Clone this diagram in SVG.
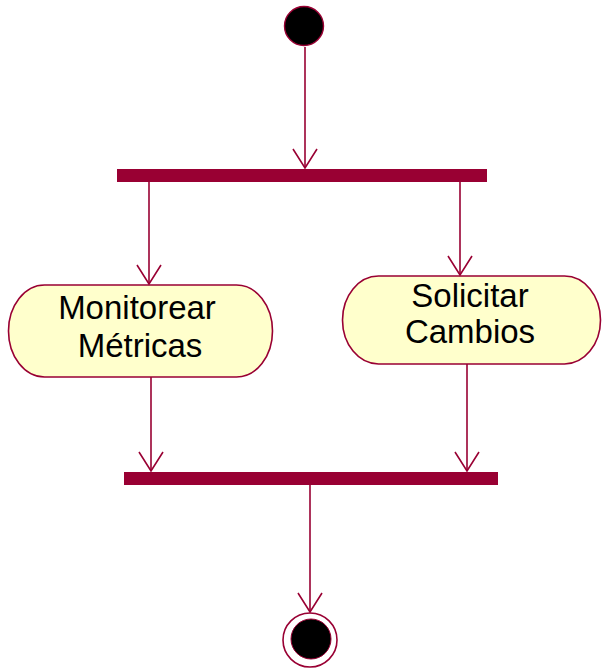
<svg xmlns="http://www.w3.org/2000/svg" width="602" height="669" viewBox="0 0 602 669">
  <style>
    .edge { stroke: #990033; stroke-width: 1.6; fill: none; }
    .head { stroke: #990033; stroke-width: 1.6; fill: none; stroke-linejoin: miter; }
    .bar { fill: #990033; }
    .act { fill: #FFFFCC; stroke: #990033; stroke-width: 1.6; }
    .lbl { font-family: "Liberation Sans", Arial, sans-serif; font-size: 33px; fill: #000; text-anchor: middle; }
  </style>
  <rect width="602" height="669" fill="#fff"/>

  <g id="start">
    <circle cx="304" cy="26" r="19.5" fill="#000" stroke="#990033" stroke-width="1.4"/>
  </g>

  <g id="fork">
    <rect class="bar" x="117" y="169" width="370" height="13"/>
  </g>

  <g id="monitorear">
    <rect class="act" x="8.5" y="285" width="264" height="92" rx="36" ry="46"/>
    <text class="lbl" x="137" y="319">Monitorear</text>
    <text class="lbl" x="140" y="357">Métricas</text>
  </g>

  <g id="solicitar">
    <rect class="act" x="342.5" y="276" width="258" height="88" rx="36" ry="44"/>
    <text class="lbl" x="470" y="307">Solicitar</text>
    <text class="lbl" x="470" y="343">Cambios</text>
  </g>

  <g id="join">
    <rect class="bar" x="124" y="472" width="374" height="13"/>
  </g>

  <g id="end">
    <circle cx="310" cy="640" r="27" fill="#fff" stroke="#990033" stroke-width="1.6"/>
    <circle cx="311" cy="639" r="20" fill="#000" stroke="#990033" stroke-width="1"/>
  </g>

  <g id="connectors">
    <!-- start to fork -->
    <path class="edge" d="M305 47 V168"/>
    <path class="head" d="M293 149 L305 168 L317 149"/>
    <!-- fork to Monitorear -->
    <path class="edge" d="M149 182 V284"/>
    <path class="head" d="M137 265 L149 284 L161 265"/>
    <!-- fork to Solicitar -->
    <path class="edge" d="M460 182 V275"/>
    <path class="head" d="M448 256 L460 275 L472 256"/>
    <!-- Monitorear to join -->
    <path class="edge" d="M151 377 V471"/>
    <path class="head" d="M139 452 L151 471 L163 452"/>
    <!-- Solicitar to join -->
    <path class="edge" d="M467 364 V471"/>
    <path class="head" d="M455 452 L467 471 L479 452"/>
    <!-- join to end -->
    <path class="edge" d="M310 485 V612"/>
    <path class="head" d="M298 593 L310 612 L322 593"/>
  </g>
</svg>
